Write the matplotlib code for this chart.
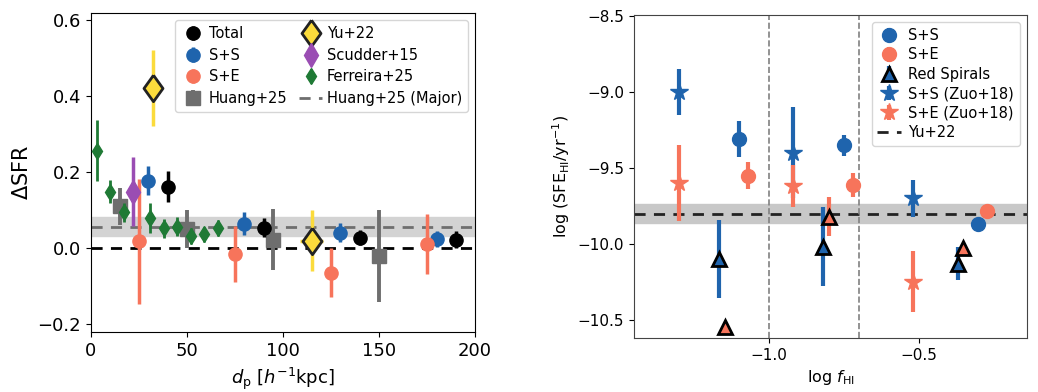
import numpy as np
import matplotlib
matplotlib.use("Agg")
import matplotlib.pyplot as plt

# ---- left panel: Delta SFR vs projected separation ----
tot_x = [40, 90, 140, 190]
tot_y = [0.162, 0.054, 0.028, 0.022]
tot_e = [0.04, 0.025, 0.02, 0.022]

ss_x = [30, 80, 130, 180]
ss_y = [0.177, 0.064, 0.041, 0.024]
ss_e = [0.038, 0.03, 0.025, 0.02]

se_x = [25, 75, 125, 175]
se_y = [0.018, -0.015, -0.064, 0.011]
se_e = [0.165, 0.073, 0.065, 0.078]

huang_x = [15, 50, 95, 150]
huang_y = [0.11, 0.05, 0.022, -0.02]
huang_e = [0.048, 0.05, 0.08, 0.12]

yu_x = [32.6, 115]
yu_y = [0.42, 0.02]
yu_e = [0.1, 0.08]
yu_xe = [0, 6]

scud_x = [22.2]
scud_y = [0.149]
scud_e = [0.09]

ferr_x = [3.1, 10, 17.5, 31, 38, 45, 52, 59, 66]
ferr_y = [0.256, 0.148, 0.095, 0.079, 0.052, 0.056, 0.032, 0.037, 0.053]
ferr_e = [0.08, 0.03, 0.025, 0.04, 0.025, 0.025, 0.02, 0.02, 0.02]

huang_major = 0.056
huang_major_band = (0.032, 0.081)

# ---- right panel: SFE_HI vs f_HI ----
ss_fx = [-1.1, -0.75, -0.30]
ss_fy = [-9.31, -9.35, -9.87]
ss_fe = [0.12, 0.07, 0.02]

se_fx = [-1.07, -0.72, -0.27]
se_fy = [-9.55, -9.61, -9.78]
se_fe = [0.09, 0.08, 0.03]

rs_b_x = [-1.167, -0.82, -0.37]
rs_b_y = [-10.10, -10.02, -10.13]
rs_b_e = [0.26, 0.26, 0.11]

rs_r_x = [-1.147, -0.80, -0.35]
rs_r_y = [-10.55, -9.82, -10.03]
rs_r_e = [0.0, 0.13, 0.03]

zuo_ss_x = [-1.3, -0.92, -0.52]
zuo_ss_y = [-9.0, -9.40, -9.70]
zuo_ss_e = [0.15, 0.3, 0.12]

zuo_se_x = [-1.3, -0.92, -0.52]
zuo_se_y = [-9.60, -9.62, -10.25]
zuo_se_e = [0.25, 0.14, 0.2]

yu22 = -9.8
yu22_band = (-9.86, -9.74)
fhi_lines = [-1.0, -0.7]

BLUE = '#1f64ad'
SALMON = '#f7745b'
GREEN = '#1f7a35'
PURPLE = '#9a4db3'
GRAY = '#6e6e6e'
YELLOW = '#fbdb3c'

# slightly wide diamond for Yu+22
wide_diamond = [(0, 1), (0.72, 0), (0, -1), (-0.72, 0), (0, 1)]

fig = plt.figure(figsize=(10.38, 3.92), dpi=100)
ax1 = fig.add_axes([0.0874, 0.153, 0.3702, 0.814])
ax2 = fig.add_axes([0.6108, 0.138, 0.3786, 0.824])

# left
ax1.axhspan(*huang_major_band, color='#d3d3d3', zorder=0)
ax1.axhline(0, color='k', ls='--', lw=2, dashes=(4, 3), zorder=1)
ax1.axhline(huang_major, color=GRAY, ls='--', lw=2, dashes=(4, 3), zorder=1, label='Huang+25 (Major)')

ax1.errorbar(tot_x, tot_y, yerr=tot_e, fmt='o', color='k', ms=9.5, elinewidth=2.5, label='Total', zorder=4)
ax1.errorbar(ss_x, ss_y, yerr=ss_e, fmt='o', color=BLUE, ms=9.5, elinewidth=2.5, label='S+S', zorder=4)
ax1.errorbar(se_x, se_y, yerr=se_e, fmt='o', color=SALMON, ms=9.5, elinewidth=2.5, label='S+E', zorder=4)
ax1.errorbar(huang_x, huang_y, yerr=huang_e, fmt='s', color=GRAY, ms=9.5, elinewidth=2.8, label='Huang+25', zorder=3)
ax1.errorbar(yu_x, yu_y, yerr=yu_e, xerr=yu_xe, fmt='none', ecolor=YELLOW, elinewidth=2.5, zorder=5)
ax1.plot(yu_x, yu_y, ls='none', marker=wide_diamond, mfc=YELLOW, mec='#222222', mew=2,
         ms=19, label='Yu+22', zorder=6)
ax1.errorbar(scud_x, scud_y, yerr=scud_e, fmt='d', color=PURPLE, ms=12, elinewidth=2.5, label='Scudder+15', zorder=4)
ax1.errorbar(ferr_x, ferr_y, yerr=ferr_e, fmt='d', color=GREEN, ms=8, elinewidth=2, label='Ferreira+25', zorder=4)

ax1.set_xlim(0, 200)
ax1.set_ylim(-0.22, 0.618)
ax1.set_xticks([0, 50, 100, 150, 200])
ax1.set_yticks([-0.2, 0.0, 0.2, 0.4, 0.6])
ax1.tick_params(labelsize=13)
ax1.set_xlabel(r'$d_{\rm p}$ [$h^{-1}$kpc]', fontsize=13)
ax1.set_ylabel(r'$\Delta$SFR', fontsize=15)

h, l = ax1.get_legend_handles_labels()
order = ['Total', 'S+S', 'S+E', 'Huang+25', 'Yu+22', 'Scudder+15', 'Ferreira+25', 'Huang+25 (Major)']
hd = dict(zip(l, h))
ax1.legend([hd[k] for k in order], order, ncol=2, loc='upper right', fontsize=10.5,
           handletextpad=0.3, columnspacing=0.8, handlelength=1.6, borderpad=0.4, labelspacing=0.45)

# right
ax2.axhspan(*yu22_band, color='#c8c8c8', zorder=0)
ax2.axhline(yu22, color='#222222', ls='--', lw=2, dashes=(4, 3), zorder=1, label='Yu+22')
for xv in fhi_lines:
    ax2.axvline(xv, color='gray', ls='--', lw=1.2, zorder=1)

ax2.errorbar(ss_fx, ss_fy, yerr=ss_fe, fmt='o', color=BLUE, ms=10, elinewidth=3, label='S+S', zorder=3)
ax2.errorbar(se_fx, se_fy, yerr=se_fe, fmt='o', color=SALMON, ms=10, elinewidth=3, label='S+E', zorder=3)
ax2.errorbar(rs_b_x, rs_b_y, yerr=rs_b_e, fmt='^', color=BLUE, mec='k', mew=2, ms=9.5, elinewidth=3,
             label='Red Spirals', zorder=4)
ax2.errorbar(rs_r_x, rs_r_y, yerr=rs_r_e, fmt='^', color=SALMON, mec='k', mew=2, ms=9.5, elinewidth=3, zorder=4)
ax2.errorbar(zuo_ss_x, zuo_ss_y, yerr=zuo_ss_e, fmt='*', color=BLUE, ms=13, elinewidth=3,
             label='S+S (Zuo+18)', zorder=3)
ax2.errorbar(zuo_se_x, zuo_se_y, yerr=zuo_se_e, fmt='*', color=SALMON, ms=13, elinewidth=3,
             label='S+E (Zuo+18)', zorder=3)

ax2.set_xlim(-1.45, -0.138)
ax2.set_ylim(-10.62, -8.49)
ax2.set_xticks([-1.0, -0.5])
ax2.set_yticks([-10.5, -10.0, -9.5, -9.0, -8.5])
ax2.tick_params(labelsize=11)
for sp in ax2.spines.values():
    sp.set_color('#444444')
ax2.set_xlabel(r'log $f_{\rm HI}$', fontsize=11.5)
ax2.set_ylabel(r'log (SFE$_{\rm HI}$/yr$^{-1}$)', fontsize=11.5)

h, l = ax2.get_legend_handles_labels()
order2 = ['S+S', 'S+E', 'Red Spirals', 'S+S (Zuo+18)', 'S+E (Zuo+18)', 'Yu+22']
hd2 = dict(zip(l, h))
ax2.legend([hd2[k] for k in order2], order2, loc='upper right', fontsize=10.5,
           handletextpad=0.5, handlelength=1.6, borderpad=0.4, labelspacing=0.3)

fig.savefig('out.png', dpi=100)
